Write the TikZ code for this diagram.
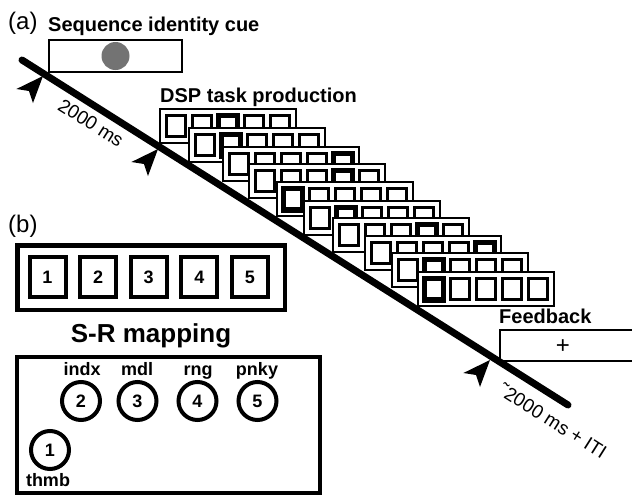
\documentclass[tikz,border=0pt]{standalone}
\usepackage{fontspec}
\setmainfont{Liberation Sans}
\definecolor{cuegray}{gray}{0.45}

\begin{document}
\begin{tikzpicture}[x=1pt,y=-1pt,
  tasklabel/.style={font=\bfseries\fontsize{20}{24}\selectfont,inner sep=0pt,anchor=base west},
  panlabel/.style={font=\fontsize{24}{28}\selectfont,inner sep=0pt,anchor=base west},
  timelabel/.style={font=\fontsize{19}{22}\selectfont,inner sep=0pt,rotate=-32.3},
  thinbox/.style={draw,line width=2.2pt,fill=white,inner sep=0pt},
  thickbox/.style={draw,line width=4.5pt,inner sep=0pt},
  panel/.style={draw,line width=2pt,fill=white,minimum width=136pt,minimum height=34pt,inner sep=0pt},
  cell/.style={draw,line width=2.9pt,minimum width=19pt,minimum height=21.5pt,inner sep=0pt},
  hicell/.style={cell,line width=5.5pt},
  keycell/.style={draw,line width=4pt,minimum width=36pt,minimum height=40pt,inner sep=0pt,
    font=\bfseries\fontsize{18}{20}\selectfont},
  finger/.style={draw,circle,line width=4pt,minimum size=38pt,inner sep=0pt,
    font=\bfseries\fontsize{18}{20}\selectfont},
  fname/.style={font=\bfseries\fontsize{18}{20}\selectfont,inner sep=0pt,anchor=base}
]
\useasboundingbox (0,0) rectangle (632,496);

% (a) one trial
\node[panlabel] (a) at (8,29) {(a)};
\node[tasklabel] (cuetitle) at (48,31.5) {Sequence identity cue};
\node[thinbox,minimum width=132.5pt,minimum height=31.5pt] (cue) at (115.5,56) {};
\node[circle,fill=cuegray,minimum size=28pt,inner sep=0pt] (dot) at (cue.center) {};

\node[tasklabel] (dsptitle) at (160,102) {DSP task production};
\foreach \n/\px/\py/\hi in {1/160/109/3,2/189/128/2,3/223/147/5,4/249/164/4,5/277/182/1,
    6/304/201/2,7/333/218/4,8/365/236/5,9/392/253/2,10/418/272/1}{
  \node[panel] (p\n) at (\px+68,\py+17) {};
  \foreach \k in {1,...,5}
    \node[cell] (p\n-\k) at (\px+16+26*\k-26,\py+17) {};
  \node[hicell] (p\n-hi) at (p\n-\hi) {};
}

\node[tasklabel] (fbtitle) at (499,323) {Feedback};
\node[thinbox,minimum width=150pt,minimum height=31pt,anchor=north west] (fb) at (499,329) {};
\node[font=\fontsize{24}{28}\selectfont,inner sep=0pt] (plus) at (563,346.5) {+};

% time line
\coordinate (tl0) at (22,60);
\coordinate (tl1) at (568,405);
\draw[line width=7pt,line cap=round] (tl0) -- (tl1);
\foreach \n/\tx/\ty in {1/43/76,2/158/149,3/490/360}{
  \coordinate (tk\n) at (\tx,\ty);
  \fill (tk\n) -- (\tx-26.6,\ty+13) -- (\tx-14,\ty+15) -- (\tx-10,\ty+27) -- cycle;
}
\node[timelabel] (d1) at (91,123) {2000 ms};
\node[timelabel] (d2) at (553,421) {{\char"02DC}2000 ms + ITI};

% (b) keys and fingers
\node[panlabel] (b) at (8,232) {(b)};
\node[thickbox,minimum width=267.5pt,minimum height=64.5pt] (key) at (151,277.5) {};
\foreach \k in {1,...,5}
  \node[keycell] (k\k) at (47.5+50.6*\k-50.6,277) {\k};

\node[font=\bfseries\fontsize{26}{30}\selectfont,inner sep=0pt,anchor=base] (srtitle) at (151,342) {S-R mapping};
\node[thickbox,line width=4pt,minimum width=303pt,minimum height=136pt] (srbox) at (168.5,425) {};
\node[finger] (f1) at (50,450) {1};
\node[finger] (f2) at (81,401) {2};
\node[finger] (f3) at (137.5,401) {3};
\node[finger] (f4) at (197.5,401) {4};
\node[finger] (f5) at (257.5,401) {5};
\node[fname] (n1) at (48,486) {thmb};
\node[fname] (n2) at (82,375) {indx};
\node[fname] (n3) at (137,375) {mdl};
\node[fname] (n4) at (198,375) {rng};
\node[fname] (n5) at (257,375) {pnky};
\end{tikzpicture}
\end{document}
